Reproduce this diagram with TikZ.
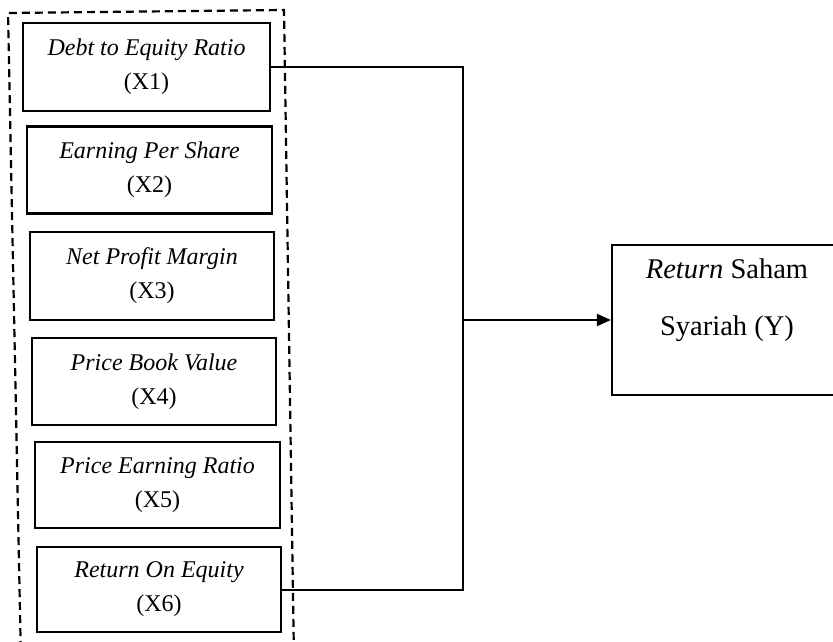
\documentclass[tikz,border=0pt]{standalone}
\usepackage{fontspec}
\setmainfont{Liberation Serif}
\usetikzlibrary{arrows.meta}
\begin{document}
\begin{tikzpicture}[x=1pt,y=-1pt,
  xbox/.style={draw,line width=2.2pt,align=center,inner sep=0pt,
    font=\fontsize{24}{34}\selectfont},
  ybox/.style={draw,line width=2.2pt,inner sep=0pt},
  ytext/.style={align=center,inner sep=0pt,font=\fontsize{28.5}{57}\selectfont},
  conn/.style={line width=2pt},
  frame/.style={line width=2.2pt,dash pattern=on 8pt off 5pt}]
\useasboundingbox (0,0) rectangle (833,642);
\clip (0,0) rectangle (833,642);
% dashed frame
\coordinate (f1) at (8,13);
\coordinate (f2) at (284,10);
\coordinate (f3) at (294,660);
\coordinate (f4) at (21,662);
\draw[frame] (f4) -- (f1) -- (f2) -- (f3);
% boxes
\node[xbox,minimum width=247pt,minimum height=88pt] (x1) at (146.5,67) {\textit{Debt to Equity Ratio}\\(X1)};
\node[xbox,minimum width=245pt,minimum height=87pt] (x2) at (149.5,170) {\textit{Earning Per Share}\\(X2)};
\node[xbox,minimum width=244pt,minimum height=88pt] (x3) at (152,276) {\textit{Net Profit Margin}\\(X3)};
\node[xbox,minimum width=244pt,minimum height=87pt] (x4) at (154,381.5) {\textit{Price Book Value}\\(X4)};
\node[xbox,minimum width=245pt,minimum height=86pt] (x5) at (157.5,485) {\textit{Price Earning Ratio}\\(X5)};
\node[xbox,minimum width=244pt,minimum height=85pt] (x6) at (159,589.5) {\textit{Return On Equity}\\(X6)};
\node[ybox,minimum width=232pt,minimum height=150pt] (y) at (728,320) {};
\node[ytext] (yt) at (727,300) {\textit{Return} Saham\\Syariah (Y)};
% connectors
\coordinate (j1) at (463,67);
\coordinate (j6) at (463,589.5);
\coordinate (jm) at (463,320);
\draw[conn] (x1.east) -- (j1) -- (j6) -- (x6.east);
\draw[conn,-{Triangle[length=14pt,width=12pt]}] (jm) -- (y.west);
\end{tikzpicture}
\end{document}
